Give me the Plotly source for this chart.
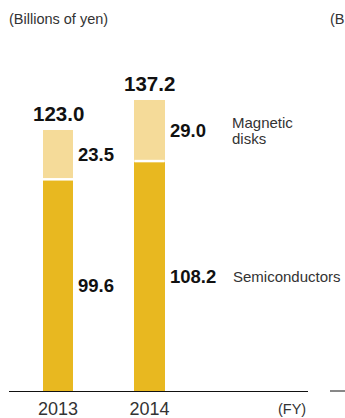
import plotly.graph_objects as go

years = ["2013", "2014"]
semiconductors = [99.6, 108.2]
magnetic_disks = [23.5, 29.0]
totals = [123.0, 137.2]

FONT = "Liberation Sans, Arial, sans-serif"
DARK = "#E8B820"
LIGHT = "#F5DB99"
TXT = "#111"
GREY = "#333"

xs = list(range(len(years)))

W, H = 345, 418
ml, mr, mt, mb = 9, 37, 0, 27
pw, ph = W - ml - mr, H - mt - mb

fig = go.Figure()
fig.add_trace(go.Bar(x=xs, y=semiconductors, marker=dict(color=DARK, line=dict(width=0)),
                     width=0.33, name="Semiconductors", hoverinfo="skip"))
fig.add_trace(go.Bar(x=xs, y=magnetic_disks, marker=dict(color=LIGHT, line=dict(width=0)),
                     width=0.33, name="Magnetic disks", hoverinfo="skip"))

# totals
for i, t in enumerate(totals):
    fig.add_annotation(x=i, y=t, text=f"<b>{t:.1f}</b>", showarrow=False, yanchor="middle", yshift=17,
                       font=dict(family=FONT, size=20.5, color=TXT))
# segment labels
for i in xs:
    s = semiconductors[i]
    m = magnetic_disks[i]
    fig.add_annotation(x=i, y=s / 2, text=f"<b>{s:.1f}</b>", showarrow=False, xanchor="left", xshift=18,
                       font=dict(family=FONT, size=18.5, color=TXT))
    fig.add_annotation(x=i, y=s + m / 2, text=f"<b>{m:.1f}</b>", showarrow=False, xanchor="left", xshift=18,
                       font=dict(family=FONT, size=18.5, color=TXT))

# series labels next to last bar
last = len(years) - 1
fig.add_annotation(x=last, y=semiconductors[last] / 2, text="Semiconductors", showarrow=False, xanchor="left",
                   xshift=81, font=dict(family=FONT, size=15, color=GREY))
mid_m = semiconductors[last] + magnetic_disks[last] / 2
fig.add_annotation(x=last, y=mid_m, text="Magnetic", showarrow=False, xanchor="left", yshift=8.5,
                   xshift=81, borderpad=0, font=dict(family=FONT, size=15, color=GREY))
fig.add_annotation(x=last, y=mid_m, text="disks", showarrow=False, xanchor="left", yshift=-8,
                   xshift=81, borderpad=0, font=dict(family=FONT, size=15, color=GREY))


def px_x(p):
    return (p - ml) / pw


def px_y(p):
    return (H - mb - p) / ph


fig.add_annotation(x=px_x(7), y=px_y(19), xref="paper", yref="paper", xanchor="left", yanchor="middle",
                   text="(Billions of yen)", showarrow=False, font=dict(family=FONT, size=14.5, color=GREY))
fig.add_annotation(x=px_x(328), y=px_y(19), xref="paper", yref="paper", xanchor="left", yanchor="middle",
                   text="(B", showarrow=False, font=dict(family=FONT, size=14.5, color=GREY))
fig.add_annotation(x=px_x(308), y=px_y(409), xref="paper", yref="paper", xanchor="right", yanchor="middle",
                   text="(FY)", showarrow=False, font=dict(family=FONT, size=14.5, color=GREY))

# white separator between segments
for i in xs:
    fig.add_shape(type="line", x0=i - 0.165, x1=i + 0.165, y0=semiconductors[i] + 0.2,
                  y1=semiconductors[i] + 0.2, line=dict(color="white", width=2.5), xref="x", yref="y")

# adjacent panel baseline stub
fig.add_shape(type="line", xref="paper", yref="paper", x0=px_x(330), x1=px_x(346), y0=0, y1=0,
              line=dict(color=TXT, width=1))

unit = 91.5
left_units = (58 - ml) / unit
fig.update_layout(
    width=W, height=H, barmode="stack", showlegend=False,
    margin=dict(l=ml, r=mr, t=mt, b=mb, pad=0, autoexpand=False),
    paper_bgcolor="white", plot_bgcolor="white",
    xaxis=dict(range=[-left_units, -left_units + pw / unit], tickvals=xs, ticktext=years,
               showline=True, linecolor=TXT, linewidth=1, ticks="", showgrid=False, zeroline=False,
               ticklabelstandoff=1, automargin=False,
               tickfont=dict(family=FONT, size=18, color=GREY), fixedrange=True),
    yaxis=dict(range=[0, ph / 2.121], visible=False, showgrid=False, zeroline=False, fixedrange=True,
               automargin=False),
)

fig.write_html("out.html")
